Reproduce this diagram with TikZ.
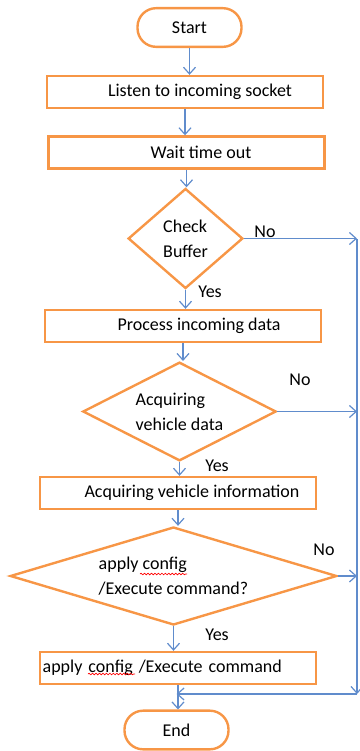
\documentclass[tikz,border=0pt]{standalone}
\usepackage{fontspec}
\setmainfont{Carlito}
\usepackage{tikz}
\usetikzlibrary{shapes.geometric,arrows.meta,calc,decorations.pathmorphing}
\definecolor{boxorange}{RGB}{247,150,70}
\definecolor{lineblue}{RGB}{96,140,204}

\begin{document}
\begin{tikzpicture}[x=0.75pt,y=-0.75pt]
        % Define the styles for boxes, diamonds and connectors
        \tikzstyle{every node}=[font=\fontsize{13.5}{18.75}\selectfont]
        \tikzstyle{terminal}=[draw=boxorange, line width=1.8pt, rounded corners=14pt, minimum width=78pt, minimum height=29pt, inner sep=0pt]
        \tikzstyle{process}=[draw=boxorange, line width=1.8pt, minimum width=207pt, minimum height=24pt, inner sep=2pt]
        \tikzstyle{decision}=[draw=boxorange, line width=1.8pt, diamond, inner sep=0pt, align=left]
        \tikzstyle{flow}=[draw=lineblue, line width=0.9pt, -{Straight Barb[length=5pt,width=9pt]}]
        \tikzstyle{squiggle}=[draw=red, line width=0.5pt, decorate, decoration={snake, amplitude=0.6pt, segment length=2.6pt}]

        \useasboundingbox (0,0) rectangle (360,751);

        % Start and the first two steps
        \node[terminal] (start) at (189.5,27.5) {Start};
        \node[process] (listen) at (185,92) {\hspace*{22.5pt}Listen to incoming socket};
        \node[process] (wait) at (186.5,152.5) {\hspace*{21.75pt}Wait time out};

        % First decision
        \node[decision, minimum width=86pt, minimum height=75pt, aspect=1.15] (check) at (185.5,238.5) {Check\\Buffer};
        \node[process] (proc) at (183,326) {\hspace*{24pt}Process incoming data};

        % Second decision
        \node[decision, minimum width=145pt, minimum height=74pt, aspect=1.95] (acq) at (179.5,411.5) {Acquiring\\vehicle data};
        \node[process] (info) at (178,493) {\hspace*{21pt}Acquiring vehicle information};

        % Third decision
        \node[decision, minimum width=245pt, minimum height=73.5pt, aspect=3.3] (apply) at (173.5,576) {apply config\\/Execute command?};
        \node[process, text width=203pt, align=left] (exec) at (178,668) {apply config /Execute command};

        % End
        \node[terminal] (end) at (176.5,730) {End};

        % Main flow
        \draw[flow] (start) -- (start |- listen.north);
        \draw[flow] (listen.south) -- (listen.south |- wait.north);
        \draw[flow] (wait.south) -- (wait.south |- check.north);
        \draw[flow] (check.south) -- (check.south |- proc.north);
        \draw[flow] (proc.south) -- (proc.south |- acq.north);
        \draw[flow] (acq.south) -- (acq.south |- info.north);
        \draw[flow] (info.south) -- (info.south |- apply.north);
        \draw[flow] (apply.south) -- (apply.south |- exec.north);
        \draw[flow] (exec.south) -- (exec.south |- end.north);

        % The No branches go to the rail on the right
        \coordinate (railtop) at (357,239);
        \coordinate (railbot) at (357,694);
        \draw[flow] (check.east) -- (check.east -| railtop);
        \draw[flow] (acq.east) -- (acq.east -| railtop);
        \draw[flow] (apply.east) -- (apply.east -| railtop);
        \draw[flow] (railtop) -- (railbot);
        \draw[flow] (railbot) -- (railbot -| end);

        % Yes / No labels
        \node (no1) at (265,232) {No};
        \node (yes1) at (210,292) {Yes};
        \node (no2) at (300,380) {No};
        \node (yes2) at (217,466) {Yes};
        \node (no3) at (324,550) {No};
        \node (yes3) at (217,635) {Yes};

        % Spell check marks under config
        \draw[squiggle] (140,574) -- (187,574);
        \draw[squiggle] (88,674) -- (135,674);

    \end{tikzpicture}
\end{document}
